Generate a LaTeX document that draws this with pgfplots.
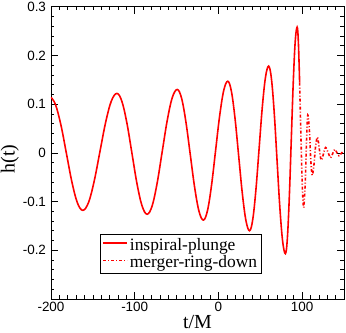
\documentclass[border=0pt]{standalone}
\usepackage{fontspec}
\setmainfont{Liberation Serif}
\setsansfont{Liberation Sans}
\usepackage{pgfplots}
\pgfplotsset{compat=1.18}
\begin{document}
\begin{tikzpicture}
\begin{axis}[
  scale only axis,
  width=293bp, height=292.3bp,
  xmin=-200, xmax=150, ymin=-0.3, ymax=0.3,
  xtick={-200,-100,0,100},
  xticklabels={-200,-100,0,100},
  ytick={-0.3,-0.2,-0.1,0,0.1,0.2,0.3},
  yticklabels={,-0.2,-0.1,0,0.1,0.2,0.3},
  minor xtick={-190,-180,-170,-160,-150,-140,-130,-120,-110,-90,-80,-70,-60,-50,-40,-30,-20,-10,10,20,30,40,50,60,70,80,90,110,120,130,140},
  minor ytick={-0.28,-0.26,-0.24,-0.22,-0.18,-0.16,-0.14,-0.12,-0.08,-0.06,-0.04,-0.02,0.02,0.04,0.06,0.08,0.12,0.14,0.16,0.18,0.22,0.24,0.26,0.28},
  tick align=inside,
  major tick length=7bp,
  minor tick length=3.5bp,
  every tick/.style={black, line width=0.6pt},
  axis line style={line width=0.8pt},
  tick label style={font=\sffamily\fontsize{13.5}{13.5}\selectfont},
  yticklabel style={xshift=-1.5bp},
  xlabel={t/M}, ylabel={h(t)},
  label style={font=\rmfamily\fontsize{20}{20}\selectfont},
  xlabel style={yshift=4bp},
  ylabel style={yshift=-3bp, xshift=-6bp},
  legend style={at={(0.167,0.086)}, anchor=south west, draw=black, line width=0.8pt,
    font=\rmfamily\fontsize{17.5}{17.5}\selectfont, row sep=0pt, inner sep=2pt},
  legend cell align=left,
  legend image code/.code={\draw[red, line width=1.6pt, #1] (0bp,2bp) -- (24bp,2bp);},
]
\addlegendimage{solid}
\addlegendentry{inspiral-plunge}
\addlegendimage{dash pattern=on 3bp off 2bp on 1bp off 2bp}
\addlegendentry{merger-ring-down}
\addplot[red, line width=1.6pt, smooth, tension=0.6, forget plot] coordinates {
(-200,0.114) (-194.5,0.0985) (-188,0.056) (-181.5,-0.002) (-175,-0.060) (-168.5,-0.1025) (-162,-0.118)
(-155.2,-0.102) (-148.4,-0.058) (-141.6,0.002) (-134.8,0.062) (-128.0,0.106) (-121.2,0.122)
(-115.2,0.105) (-109.2,0.060) (-103.2,-0.002) (-97.2,-0.064) (-91.2,-0.109) (-85.2,-0.126)
(-79.2,-0.109) (-73.2,-0.062) (-67.2,0.002) (-61.2,0.066) (-55.2,0.113) (-49.2,0.130)
(-44.0,0.112) (-38.8,0.063) (-33.6,-0.004) (-28.4,-0.071) (-23.2,-0.120) (-18,-0.138)
(-13.13,-0.119) (-8.27,-0.067) (-3.4,0.0045) (1.47,0.076) (6.33,0.128) (11.2,0.147)
(15.53,0.126) (19.87,0.070) (24.2,-0.0065) (28.53,-0.083) (32.87,-0.139) (37.2,-0.160)
(41.0,-0.137) (44.8,-0.0755) (48.6,0.009) (52.4,0.0935) (56.2,0.155) (60,0.178)
(63.33,0.152) (66.67,0.082) (70,-0.0145) (73.33,-0.111) (76.67,-0.181) (80,-0.207)
(82.33,-0.176) (84.67,-0.091) (87,0.0255) (89.33,0.142) (91.67,0.227) (94,0.258)
(95.5,0.227) (97,0.144)
};
\addplot[red, line width=1.6pt, smooth, tension=0.6, dash pattern=on 3bp off 2bp on 1bp off 2bp, forget plot] coordinates {
(97,0.144) (98.5,0.0375) (100,-0.057) (101,-0.097) (102,-0.111)
(103.67,-0.064) (104.5,-0.017) (105.33,0.030) (106.2,0.065) (107,0.077)
(108.67,0.046) (109.5,0.0155) (110.33,-0.015) (112,-0.046)
(114,-0.0265) (115,-0.007) (116,0.0125) (118,0.032)
(119.67,0.020) (120.5,0.0085) (121.33,-0.003) (123,-0.015)
(125.5,-0.002) (128,0.011) (131,0.0005) (134,-0.010)
(136.5,-0.0015) (139,0.007) (141.5,0.0005) (144,-0.006)
(146.5,-0.0015) (149,0.003) (150,0.002)
};
\end{axis}
\pgfresetboundingbox
\useasboundingbox ([shift={(-51bp,-34bp)}]current axis.south west) rectangle ([shift={(2bp,6.7bp)}]current axis.north east);
\end{tikzpicture}
\end{document}
